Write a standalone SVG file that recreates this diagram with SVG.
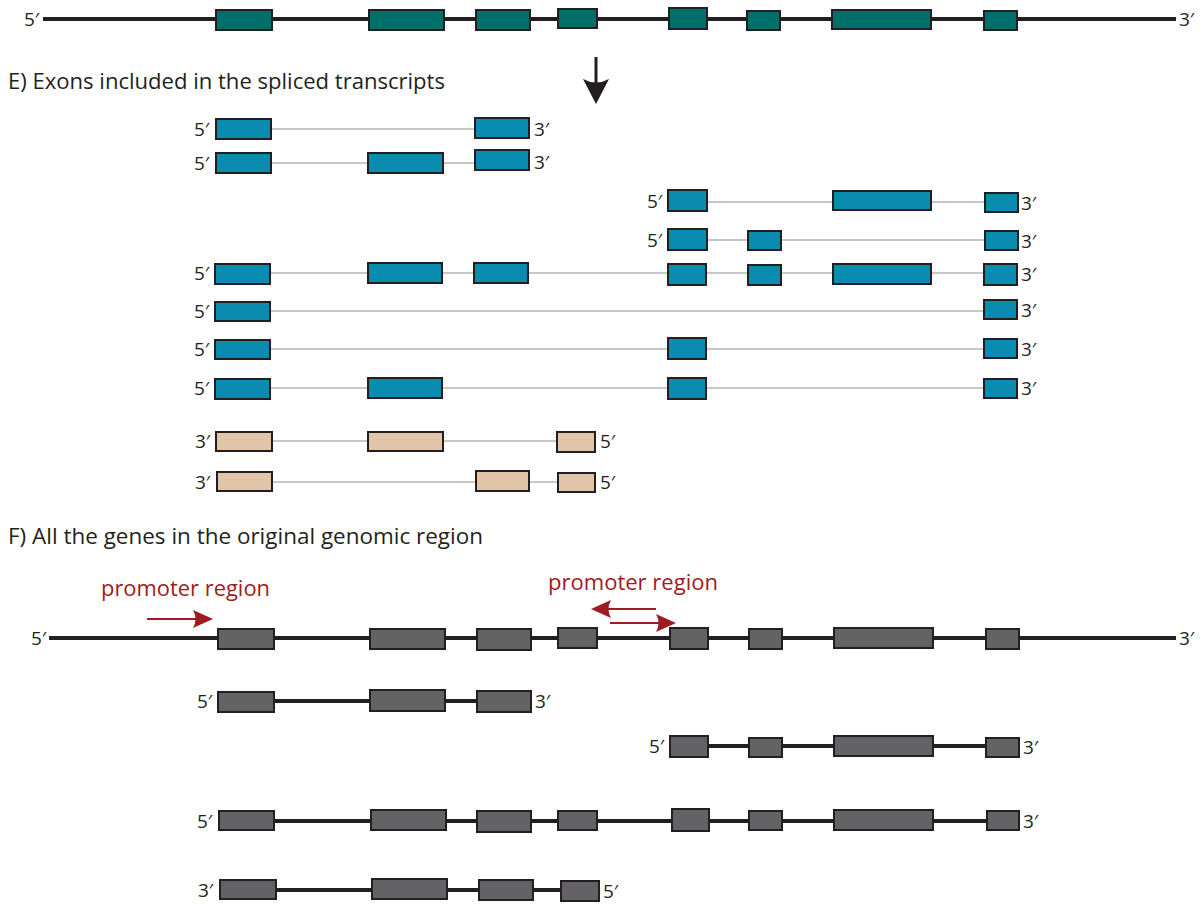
<svg xmlns="http://www.w3.org/2000/svg" width="1203" height="904" viewBox="0 0 1203 904">
  <defs>
    <style>
      .bg { fill: #ffffff; }
      .dna { stroke: #231f20; stroke-width: 4; fill: none; }
      .intron { stroke: #c8c8c8; stroke-width: 2.2; fill: none; }
      .ex { stroke: #231f20; stroke-width: 2; }
      .teal { fill: #006f6b; }
      .blue { fill: #0a8cb0; }
      .tan { fill: #e2c4a8; }
      .gray { fill: #636365; }
      .end { font-family: "Open Sans", "Noto Sans", sans-serif; font-size: 19px; fill: #231f20; }
      .head { font-family: "Open Sans", "Noto Sans", sans-serif; font-size: 22px; fill: #231f20; }
      .prom { font-family: "Open Sans", "Noto Sans", sans-serif; font-size: 22px; fill: #9e1b21; }
      .red { stroke: #9e1b21; stroke-width: 2; fill: none; }
    </style>
    <marker id="redHead" viewBox="0 0 20 18" refX="18" refY="9" markerWidth="20" markerHeight="18" markerUnits="userSpaceOnUse" orient="auto">
      <path d="M0,0 L20,9 L0,18 Q5,9 0,0 Z" fill="#9e1b21"/>
    </marker>
  </defs>

  <rect class="bg" x="0" y="0" width="1203" height="904"/>

  <!-- Genomic region with all exons -->
  <g id="genomic-region">
    <line class="dna" x1="43" y1="19" x2="1176" y2="19"/>
    <rect class="ex teal" x="216" y="10" width="56" height="20"/>
    <rect class="ex teal" x="369" y="10" width="75" height="20"/>
    <rect class="ex teal" x="476" y="10" width="54" height="20"/>
    <rect class="ex teal" x="558" y="9" width="39" height="19"/>
    <rect class="ex teal" x="669" y="8" width="38" height="21"/>
    <rect class="ex teal" x="747" y="11" width="33" height="19"/>
    <rect class="ex teal" x="832" y="10" width="99" height="19"/>
    <rect class="ex teal" x="984" y="11" width="33" height="19"/>
    <text class="end" x="24" y="26">5′</text>
    <text class="end" x="1179" y="26">3′</text>
  </g>

  <!-- Down arrow -->
  <g id="down-arrow">
    <line x1="596" y1="57" x2="596" y2="86" stroke="#231f20" stroke-width="3"/>
    <path d="M583,79 Q596,86 609,79 L596,104 Z" fill="#231f20"/>
  </g>

  <text id="heading-e" class="head" x="8" y="89" textLength="437" lengthAdjust="spacingAndGlyphs">E) Exons included in the spliced transcripts</text>

  <!-- Spliced transcripts -->
  <g id="transcript-1">
    <line class="intron" x1="271" y1="129" x2="475" y2="129"/>
    <rect class="ex blue" x="216" y="119" width="55" height="20"/>
    <rect class="ex blue" x="475" y="118" width="54" height="20"/>
    <text class="end" x="194" y="136">5′</text>
    <text class="end" x="534" y="136">3′</text>
  </g>
  <g id="transcript-2">
    <line class="intron" x1="271" y1="163" x2="475" y2="163"/>
    <rect class="ex blue" x="216" y="153" width="55" height="20"/>
    <rect class="ex blue" x="368" y="153" width="75" height="20"/>
    <rect class="ex blue" x="475" y="150" width="54" height="20"/>
    <text class="end" x="194" y="170">5′</text>
    <text class="end" x="534" y="169">3′</text>
  </g>
  <g id="transcript-3">
    <line class="intron" x1="707" y1="202" x2="985" y2="202"/>
    <rect class="ex blue" x="668" y="190" width="39" height="21"/>
    <rect class="ex blue" x="833" y="191" width="98" height="19"/>
    <rect class="ex blue" x="985" y="193" width="33" height="19"/>
    <text class="end" x="647" y="208">5′</text>
    <text class="end" x="1021" y="210">3′</text>
  </g>
  <g id="transcript-4">
    <line class="intron" x1="707" y1="240" x2="985" y2="240"/>
    <rect class="ex blue" x="668" y="229" width="39" height="21"/>
    <rect class="ex blue" x="748" y="231" width="33" height="19"/>
    <rect class="ex blue" x="985" y="231" width="33" height="19"/>
    <text class="end" x="647" y="247">5′</text>
    <text class="end" x="1021" y="248">3′</text>
  </g>
  <g id="transcript-5">
    <line class="intron" x1="270" y1="273" x2="984" y2="273"/>
    <rect class="ex blue" x="215" y="264" width="55" height="20"/>
    <rect class="ex blue" x="368" y="263" width="74" height="20"/>
    <rect class="ex blue" x="474" y="263" width="54" height="20"/>
    <rect class="ex blue" x="668" y="264" width="38" height="21"/>
    <rect class="ex blue" x="748" y="265" width="33" height="20"/>
    <rect class="ex blue" x="833" y="264" width="98" height="20"/>
    <rect class="ex blue" x="984" y="264" width="33" height="21"/>
    <text class="end" x="194" y="280">5′</text>
    <text class="end" x="1021" y="281">3′</text>
  </g>
  <g id="transcript-6">
    <line class="intron" x1="270" y1="311" x2="984" y2="311"/>
    <rect class="ex blue" x="215" y="302" width="55" height="19"/>
    <rect class="ex blue" x="984" y="300" width="33" height="19"/>
    <text class="end" x="194" y="318">5′</text>
    <text class="end" x="1021" y="317">3′</text>
  </g>
  <g id="transcript-7">
    <line class="intron" x1="270" y1="349" x2="984" y2="349"/>
    <rect class="ex blue" x="215" y="340" width="55" height="19"/>
    <rect class="ex blue" x="668" y="338" width="38" height="21"/>
    <rect class="ex blue" x="984" y="339" width="33" height="19"/>
    <text class="end" x="194" y="356">5′</text>
    <text class="end" x="1021" y="356">3′</text>
  </g>
  <g id="transcript-8">
    <line class="intron" x1="270" y1="388" x2="984" y2="388"/>
    <rect class="ex blue" x="215" y="379" width="55" height="20"/>
    <rect class="ex blue" x="368" y="378" width="74" height="20"/>
    <rect class="ex blue" x="668" y="378" width="38" height="21"/>
    <rect class="ex blue" x="984" y="379" width="33" height="19"/>
    <text class="end" x="194" y="395">5′</text>
    <text class="end" x="1021" y="395">3′</text>
  </g>
  <g id="transcript-9">
    <line class="intron" x1="272" y1="441" x2="557" y2="441"/>
    <rect class="ex tan" x="216" y="432" width="56" height="19"/>
    <rect class="ex tan" x="368" y="432" width="75" height="19"/>
    <rect class="ex tan" x="557" y="432" width="38" height="20"/>
    <text class="end" x="195" y="448">3′</text>
    <text class="end" x="600" y="448">5′</text>
  </g>
  <g id="transcript-10">
    <line class="intron" x1="272" y1="482" x2="558" y2="482"/>
    <rect class="ex tan" x="217" y="472" width="55" height="19"/>
    <rect class="ex tan" x="476" y="471" width="53" height="20"/>
    <rect class="ex tan" x="558" y="473" width="37" height="19"/>
    <text class="end" x="195" y="489">3′</text>
    <text class="end" x="600" y="489">5′</text>
  </g>

  <text id="heading-f" class="head" x="8" y="544" textLength="475" lengthAdjust="spacingAndGlyphs">F) All the genes in the original genomic region</text>

  <!-- Promoter annotations -->
  <g id="promoter-1">
    <text class="prom" x="101" y="596" textLength="169" lengthAdjust="spacingAndGlyphs">promoter region</text>
  </g>
  <g id="promoter-2">
    <text class="prom" x="548" y="590" textLength="170" lengthAdjust="spacingAndGlyphs">promoter region</text>
  </g>

  <g id="connectors">
    <line class="red" x1="147" y1="619" x2="211" y2="619" marker-end="url(#redHead)"/>
    <line class="red" x1="656" y1="609" x2="593" y2="609" marker-end="url(#redHead)"/>
    <line class="red" x1="610" y1="623" x2="674" y2="623" marker-end="url(#redHead)"/>
  </g>

  <!-- Genes in the genomic region -->
  <g id="gene-region">
    <line class="dna" x1="49" y1="638" x2="1176" y2="638"/>
    <rect class="ex gray" x="218" y="629" width="56" height="20"/>
    <rect class="ex gray" x="370" y="629" width="75" height="20"/>
    <rect class="ex gray" x="477" y="629" width="54" height="21"/>
    <rect class="ex gray" x="558" y="628" width="39" height="20"/>
    <rect class="ex gray" x="670" y="628" width="38" height="21"/>
    <rect class="ex gray" x="749" y="629" width="33" height="20"/>
    <rect class="ex gray" x="834" y="628" width="99" height="20"/>
    <rect class="ex gray" x="986" y="629" width="33" height="20"/>
    <text class="end" x="31" y="645">5′</text>
    <text class="end" x="1179" y="645">3′</text>
  </g>
  <g id="gene-1">
    <line class="dna" x1="218" y1="701" x2="531" y2="701"/>
    <rect class="ex gray" x="218" y="692" width="56" height="20"/>
    <rect class="ex gray" x="370" y="690" width="75" height="21"/>
    <rect class="ex gray" x="477" y="691" width="54" height="21"/>
    <text class="end" x="197" y="708">5′</text>
    <text class="end" x="535" y="708">3′</text>
  </g>
  <g id="gene-2">
    <line class="dna" x1="670" y1="746" x2="1019" y2="746"/>
    <rect class="ex gray" x="670" y="736" width="38" height="21"/>
    <rect class="ex gray" x="749" y="738" width="33" height="19"/>
    <rect class="ex gray" x="834" y="736" width="99" height="20"/>
    <rect class="ex gray" x="986" y="738" width="33" height="19"/>
    <text class="end" x="649" y="753">5′</text>
    <text class="end" x="1023" y="754">3′</text>
  </g>
  <g id="gene-3">
    <line class="dna" x1="219" y1="821" x2="1019" y2="821"/>
    <rect class="ex gray" x="219" y="811" width="55" height="19"/>
    <rect class="ex gray" x="371" y="810" width="75" height="20"/>
    <rect class="ex gray" x="477" y="811" width="54" height="21"/>
    <rect class="ex gray" x="558" y="811" width="39" height="19"/>
    <rect class="ex gray" x="672" y="809" width="37" height="22"/>
    <rect class="ex gray" x="749" y="811" width="33" height="19"/>
    <rect class="ex gray" x="834" y="810" width="99" height="20"/>
    <rect class="ex gray" x="987" y="811" width="32" height="19"/>
    <text class="end" x="197" y="828">5′</text>
    <text class="end" x="1023" y="828">3′</text>
  </g>
  <g id="gene-4">
    <line class="dna" x1="220" y1="890" x2="599" y2="890"/>
    <rect class="ex gray" x="220" y="880" width="56" height="19"/>
    <rect class="ex gray" x="372" y="879" width="75" height="20"/>
    <rect class="ex gray" x="479" y="880" width="54" height="20"/>
    <rect class="ex gray" x="561" y="881" width="38" height="20"/>
    <text class="end" x="198" y="897">3′</text>
    <text class="end" x="603" y="898">5′</text>
  </g>
</svg>
